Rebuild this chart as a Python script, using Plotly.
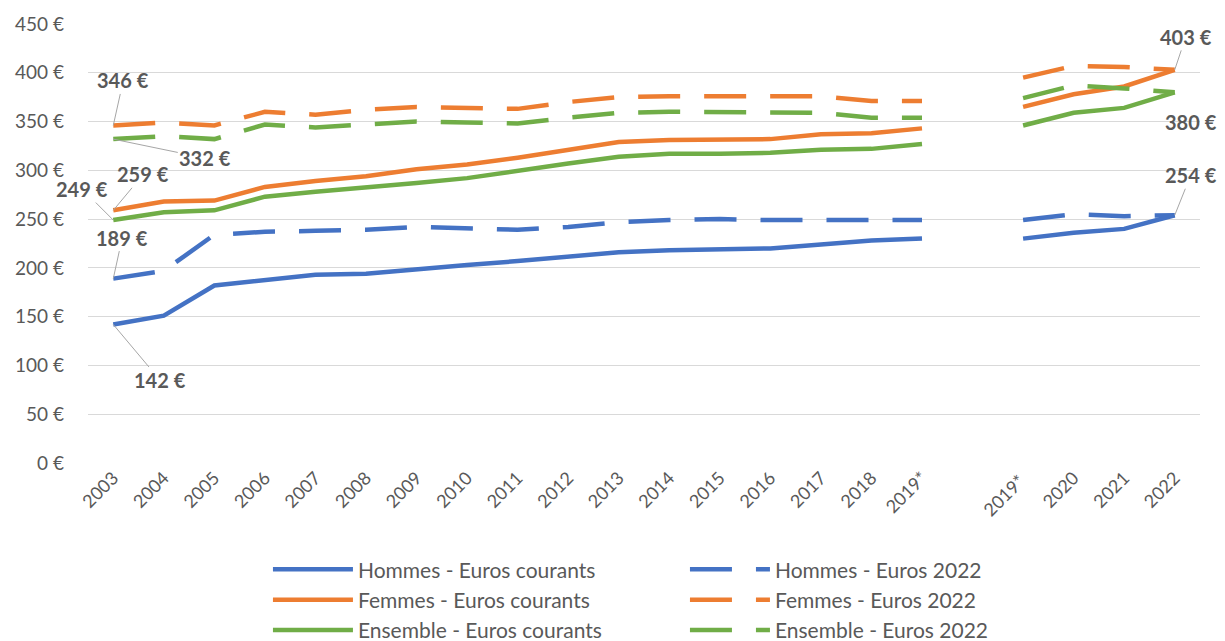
import plotly.graph_objects as go

# categories (gap between the two "2019*" points breaks the lines)
categories = ["2003", "2004", "2005", "2006", "2007", "2008", "2009", "2010",
              "2011", "2012", "2013", "2014", "2015", "2016", "2017", "2018",
              "2019*", " ", "2019* ", "2020", "2021", "2022"]

hommes_courants = [142, 151, 182, 188, 193, 194, 199, 203, 207, 211, 216, 218,
                   219, 220, 224, 228, 230, None, 230, 236, 240, 254]
hommes_2022 = [189, 197, 234, 237, 238, 239, 242, 240, 239, 242, 247, 249,
               250, 249, 249, 249, 249, None, 249, 255, 253, 254]
femmes_courants = [259, 268, 269, 283, 289, 294, 301, 306, 313, 321, 329, 331,
                   332, 332, 337, 338, 343, None, 365, 378, 386, 403]
femmes_2022 = [346, 349, 346, 360, 357, 362, 365, 364, 363, 370, 375, 376,
               376, 375, 376, 371, 371, None, 395, 407, 406, 403]
ensemble_courants = [249, 257, 259, 273, 278, 282, 287, 292, 300, 307, 314, 317,
                     317, 318, 321, 322, 327, None, 346, 359, 364, 380]
ensemble_2022 = [332, 335, 332, 347, 344, 347, 350, 349, 348, 354, 359, 360,
                 360, 359, 359, 354, 354, None, 374, 387, 384, 380]

BLUE = "#4472C4"
ORANGE = "#ED7D31"
GREEN = "#70AD47"
TXT = "#595959"
FONT = "Lato"

series = [
    ("Hommes - Euros courants", hommes_courants, BLUE, "solid"),
    ("Hommes - Euros 2022", hommes_2022, BLUE, "42px,24px"),
    ("Femmes - Euros courants", femmes_courants, ORANGE, "solid"),
    ("Femmes - Euros 2022", femmes_2022, ORANGE, "42px,24px"),
    ("Ensemble - Euros courants", ensemble_courants, GREEN, "solid"),
    ("Ensemble - Euros 2022", ensemble_2022, GREEN, "42px,24px"),
]

fig = go.Figure()
for name, vals, color, dash in series:
    fig.add_trace(go.Scatter(
        x=categories, y=vals, mode="lines", name=name,
        line=dict(color=color, width=4.5, dash=dash),
    ))

# data labels with leader lines: (series values, category index, ax, ay)
labels = [
    (femmes_2022, 0, 10, -45),
    (ensemble_2022, 0, 92, 19),
    (femmes_courants, 0, 30, -36),
    (ensemble_courants, 0, -31, -31),
    (hommes_2022, 0, 9, -41),
    (hommes_courants, 0, 47, 56),
    (femmes_courants, 21, 11, -33),
    (ensemble_courants, 21, 16, 30),
    (hommes_courants, 21, 16, -40),
]
for vals, i, ax, ay in labels:
    fig.add_annotation(
        x=i, y=vals[i], xref="x", yref="y", text=f"<b>{vals[i]} €</b>",
        showarrow=True, arrowhead=0, arrowwidth=1, arrowcolor="#A6A6A6",
        ax=ax, ay=ay,
        font=dict(family=FONT, size=20, color=TXT),
    )

# page body has an 8px margin, so the figure is kept 8px smaller
fig.update_layout(
    width=1217, height=633,
    margin=dict(l=80, r=25, t=16, b=178),
    paper_bgcolor="white", plot_bgcolor="white",
    font=dict(family=FONT, size=19, color=TXT),
    showlegend=True,
    legend=dict(
        orientation="h", xref="container", yref="container",
        x=0.2136, xanchor="left", y=0.145, yanchor="top",
        entrywidth=322, itemwidth=80, tracegroupgap=0,
        font=dict(family=FONT, size=21, color=TXT),
    ),
    xaxis=dict(
        type="category", range=[-0.5, 21.5], tickangle=-45,
        showgrid=False, showline=False, ticks="", automargin=False,
        tickfont=dict(family=FONT, size=18, color=TXT),
    ),
    yaxis=dict(
        range=[0, 450], dtick=50, ticksuffix=" €",
        gridcolor="#D9D9D9", gridwidth=1, zeroline=False, automargin=False,
        ticklabelstandoff=23,
        tickfont=dict(family=FONT, size=19, color=TXT),
    ),
)

fig.write_html("out.html")
